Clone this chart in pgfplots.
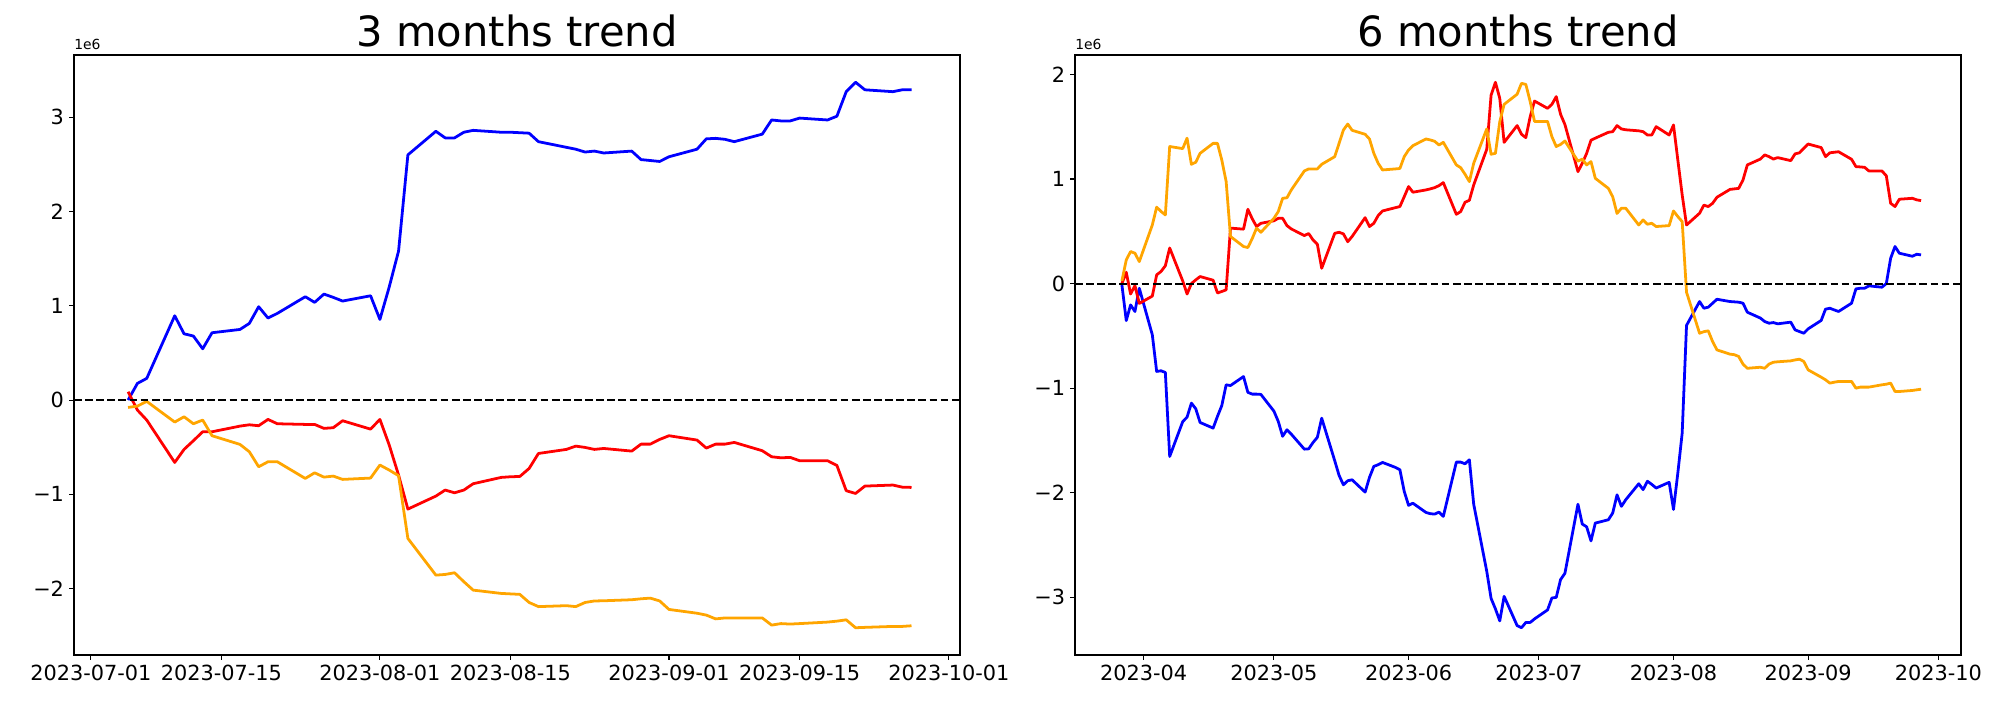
\documentclass[border=0pt]{standalone}
\usepackage{fontspec}
\setmainfont{DejaVu Sans}
\usepackage{pgfplots}
\pgfplotsset{compat=1.18}
\usepackage{pgfplotstable}
\usepgfplotslibrary{dateplot}
\definecolor{mplorange}{RGB}{255,165,0}

\pgfplotstableread{
date blue red orange
2023-07-05 0.000 0.088 -0.078
2023-07-06 0.177 -0.106 -0.064
2023-07-07 0.230 -0.212 -0.014
2023-07-10 0.894 -0.661 -0.233
2023-07-11 0.703 -0.523 -0.177
2023-07-12 0.679 -0.431 -0.251
2023-07-13 0.544 -0.336 -0.212
2023-07-14 0.714 -0.336 -0.378
2023-07-17 0.749 -0.276 -0.470
2023-07-18 0.813 -0.262 -0.548
2023-07-19 0.990 -0.272 -0.707
2023-07-20 0.870 -0.205 -0.654
2023-07-21 0.919 -0.251 -0.654
2023-07-24 1.096 -0.258 -0.831
2023-07-25 1.036 -0.258 -0.771
2023-07-26 1.124 -0.300 -0.817
2023-07-27 1.089 -0.293 -0.806
2023-07-28 1.050 -0.219 -0.841
2023-07-31 1.106 -0.308 -0.827
2023-08-01 0.855 -0.205 -0.689
2023-08-02 1.200 -0.477 -0.742
2023-08-03 1.580 -0.795 -0.802
2023-08-04 2.600 -1.156 -1.467
2023-08-07 2.850 -1.018 -1.856
2023-08-08 2.780 -0.954 -1.849
2023-08-09 2.780 -0.983 -1.831
2023-08-10 2.840 -0.954 -1.926
2023-08-11 2.860 -0.887 -2.015
2023-08-14 2.840 -0.820 -2.050
2023-08-15 2.840 -0.813 -2.055
2023-08-16 2.835 -0.810 -2.060
2023-08-17 2.830 -0.725 -2.146
2023-08-18 2.740 -0.566 -2.190
2023-08-21 2.680 -0.523 -2.180
2023-08-22 2.660 -0.488 -2.190
2023-08-23 2.630 -0.502 -2.146
2023-08-24 2.640 -0.523 -2.130
2023-08-25 2.620 -0.513 -2.128
2023-08-28 2.640 -0.541 -2.117
2023-08-29 2.550 -0.467 -2.107
2023-08-30 2.540 -0.467 -2.100
2023-08-31 2.530 -0.417 -2.130
2023-09-01 2.580 -0.378 -2.220
2023-09-04 2.660 -0.424 -2.260
2023-09-05 2.770 -0.509 -2.280
2023-09-06 2.775 -0.467 -2.320
2023-09-07 2.765 -0.467 -2.310
2023-09-08 2.740 -0.449 -2.310
2023-09-11 2.820 -0.537 -2.310
2023-09-12 2.970 -0.601 -2.386
2023-09-13 2.960 -0.612 -2.370
2023-09-14 2.960 -0.608 -2.375
2023-09-15 2.990 -0.643 -2.370
2023-09-18 2.970 -0.643 -2.354
2023-09-19 3.010 -0.693 -2.344
2023-09-20 3.270 -0.961 -2.330
2023-09-21 3.370 -0.990 -2.414
2023-09-22 3.290 -0.912 -2.410
2023-09-25 3.270 -0.901 -2.400
2023-09-26 3.290 -0.923 -2.400
2023-09-27 3.290 -0.926 -2.393
}\threemonths

\pgfplotstableread{
date blue red orange
2023-03-27 -0.013 0.000 0.025
2023-03-28 -0.354 0.108 0.226
2023-03-29 -0.204 -0.100 0.306
2023-03-30 -0.267 -0.020 0.290
2023-03-31 -0.045 -0.190 0.210
2023-04-03 -0.490 -0.120 0.560
2023-04-04 -0.840 0.083 0.730
2023-04-05 -0.834 0.115 0.690
2023-04-06 -0.850 0.170 0.656
2023-04-07 -1.653 0.340 1.310
2023-04-10 -1.320 0.025 1.290
2023-04-11 -1.277 -0.100 1.390
2023-04-12 -1.143 0.000 1.140
2023-04-13 -1.197 0.035 1.160
2023-04-14 -1.328 0.067 1.245
2023-04-17 -1.382 0.032 1.340
2023-04-18 -1.270 -0.090 1.340
2023-04-19 -1.166 -0.076 1.180
2023-04-20 -0.968 -0.060 0.975
2023-04-21 -0.975 0.530 0.450
2023-04-24 -0.889 0.520 0.354
2023-04-25 -1.040 0.710 0.344
2023-04-26 -1.057 0.620 0.430
2023-04-27 -1.057 0.545 0.530
2023-04-28 -1.060 0.576 0.490
2023-05-01 -1.220 0.600 0.624
2023-05-02 -1.318 0.624 0.688
2023-05-03 -1.460 0.624 0.815
2023-05-04 -1.398 0.554 0.820
2023-05-05 -1.440 0.522 0.895
2023-05-08 -1.583 0.459 1.076
2023-05-09 -1.580 0.478 1.096
2023-05-10 -1.520 0.417 1.096
2023-05-11 -1.470 0.376 1.096
2023-05-12 -1.287 0.146 1.140
2023-05-15 -1.694 0.480 1.213
2023-05-16 -1.834 0.490 1.340
2023-05-17 -1.924 0.475 1.468
2023-05-18 -1.885 0.400 1.525
2023-05-19 -1.876 0.450 1.465
2023-05-22 -1.994 0.630 1.427
2023-05-23 -1.853 0.545 1.382
2023-05-24 -1.748 0.576 1.245
2023-05-25 -1.732 0.650 1.150
2023-05-26 -1.710 0.694 1.086
2023-05-29 -1.758 0.726 1.096
2023-05-30 -1.780 0.736 1.100
2023-05-31 -1.987 0.830 1.213
2023-06-01 -2.120 0.927 1.277
2023-06-02 -2.100 0.873 1.318
2023-06-05 -2.188 0.895 1.382
2023-06-06 -2.200 0.905 1.373
2023-06-07 -2.204 0.917 1.360
2023-06-08 -2.185 0.936 1.325
2023-06-09 -2.226 0.965 1.350
2023-06-12 -1.707 0.662 1.134
2023-06-13 -1.707 0.688 1.108
2023-06-14 -1.723 0.777 1.045
2023-06-15 -1.685 0.796 0.975
2023-06-16 -2.110 0.943 1.150
2023-06-19 -2.750 1.283 1.478
2023-06-20 -3.010 1.800 1.236
2023-06-21 -3.110 1.924 1.245
2023-06-22 -3.225 1.770 1.548
2023-06-23 -2.990 1.350 1.713
2023-06-26 -3.270 1.510 1.810
2023-06-27 -3.290 1.427 1.914
2023-06-28 -3.240 1.395 1.904
2023-06-29 -3.240 1.595 1.740
2023-06-30 -3.206 1.745 1.550
2023-07-03 -3.120 1.675 1.550
2023-07-04 -3.006 1.713 1.404
2023-07-05 -3.000 1.787 1.310
2023-07-06 -2.830 1.618 1.330
2023-07-07 -2.770 1.520 1.363
2023-07-10 -2.110 1.070 1.170
2023-07-11 -2.300 1.150 1.190
2023-07-12 -2.325 1.245 1.134
2023-07-13 -2.460 1.370 1.166
2023-07-14 -2.290 1.390 1.006
2023-07-17 -2.258 1.446 0.910
2023-07-18 -2.194 1.452 0.830
2023-07-19 -2.020 1.510 0.670
2023-07-20 -2.130 1.478 0.720
2023-07-21 -2.067 1.470 0.720
2023-07-24 -1.914 1.460 0.560
2023-07-25 -1.970 1.452 0.608
2023-07-26 -1.890 1.420 0.567
2023-07-27 -1.920 1.420 0.576
2023-07-28 -1.955 1.500 0.545
2023-07-31 -1.900 1.420 0.554
2023-08-01 -2.160 1.516 0.694
2023-08-02 -1.810 1.180 0.640
2023-08-03 -1.430 0.847 0.592
2023-08-04 -0.400 0.560 -0.083
2023-08-07 -0.172 0.672 -0.475
2023-08-08 -0.236 0.750 -0.460
2023-08-09 -0.226 0.736 -0.452
2023-08-10 -0.188 0.767 -0.554
2023-08-11 -0.150 0.825 -0.634
2023-08-14 -0.172 0.900 -0.675
2023-08-15 -0.175 0.905 -0.680
2023-08-16 -0.178 0.910 -0.697
2023-08-17 -0.188 0.990 -0.770
2023-08-18 -0.274 1.134 -0.810
2023-08-21 -0.330 1.190 -0.800
2023-08-22 -0.363 1.230 -0.810
2023-08-23 -0.379 1.213 -0.770
2023-08-24 -0.373 1.190 -0.752
2023-08-25 -0.385 1.204 -0.748
2023-08-28 -0.369 1.175 -0.739
2023-08-29 -0.443 1.240 -0.730
2023-08-30 -0.459 1.250 -0.723
2023-08-31 -0.475 1.293 -0.745
2023-09-01 -0.433 1.334 -0.825
2023-09-04 -0.353 1.300 -0.895
2023-09-05 -0.245 1.213 -0.920
2023-09-06 -0.236 1.250 -0.952
2023-09-07 -0.252 1.255 -0.943
2023-09-08 -0.267 1.260 -0.936
2023-09-11 -0.188 1.188 -0.936
2023-09-12 -0.051 1.118 -1.000
2023-09-13 -0.045 1.115 -0.990
2023-09-14 -0.045 1.111 -0.990
2023-09-15 -0.022 1.076 -0.990
2023-09-18 -0.035 1.076 -0.968
2023-09-19 0.000 1.030 -0.962
2023-09-20 0.242 0.767 -0.952
2023-09-21 0.354 0.736 -1.032
2023-09-22 0.290 0.806 -1.032
2023-09-25 0.261 0.815 -1.022
2023-09-26 0.280 0.800 -1.016
2023-09-27 0.274 0.793 -1.010
}\sixmonths

\pgfplotsset{
  trend/.style={
    scale only axis,
    width=637.92pt, height=432pt,
    anchor=south west,
    date coordinates in=x,
    axis line style={line width=0.8pt},
    tick align=outside,
    major tick length=3.5pt,
    tick style={line width=0.8pt, black},
    xtick pos=bottom, ytick pos=left,
    tick label style={font=\fontsize{15}{18}\selectfont},
    xticklabel style={inner sep=0pt, yshift=-3.5pt},
    yticklabel style={inner sep=0pt, xshift=-3.5pt},
    /pgf/number format/assume math mode=true,
  },
}
\tikzset{
  series/.style={line width=2pt, line join=round},
  zeroline/.style={black, line width=1.5pt, dash pattern=on 5.6pt off 2.4pt},
}

\begin{document}
\begin{tikzpicture}
\path[use as bounding box] (0,0) rectangle (1440pt,504pt);

\begin{axis}[trend,
  at={(53.28pt,32.4pt)},
  date ZERO=2023-07-01,
  xmin={2023-06-30 19:12}, xmax={2023-10-02 04:48},
  ymin=-2.703, ymax=3.659,
  xtick={2023-07-01,2023-07-15,2023-08-01,2023-08-15,2023-09-01,2023-09-15,2023-10-01},
  xticklabels={2023-07-01,2023-07-15,2023-08-01,2023-08-15,2023-09-01,2023-09-15,2023-10-01},
  ytick={-2,-1,0,1,2,3},
  yticklabels={−2,−1,0,1,2,3},
]
\addplot[series, blue] table[x=date, y=blue] {\threemonths};
\addplot[series, red] table[x=date, y=red] {\threemonths};
\addplot[series, mplorange] table[x=date, y=orange] {\threemonths};
\draw[zeroline]
  ({rel axis cs:0,0} |- {axis cs:2023-07-01,0}) -- ({rel axis cs:1,0} |- {axis cs:2023-07-01,0});
\end{axis}

\begin{axis}[trend,
  at={(774pt,32.4pt)},
  date ZERO=2023-04-01,
  xmin={2023-03-17 19:12}, xmax={2023-10-06 04:48},
  ymin=-3.551, ymax=2.185,
  xtick={2023-04-01,2023-05-01,2023-06-01,2023-07-01,2023-08-01,2023-09-01,2023-10-01},
  xticklabels={2023-04,2023-05,2023-06,2023-07,2023-08,2023-09,2023-10},
  ytick={-3,-2,-1,0,1,2},
  yticklabels={−3,−2,−1,0,1,2},
]
\addplot[series, blue] table[x=date, y=blue] {\sixmonths};
\addplot[series, red] table[x=date, y=red] {\sixmonths};
\addplot[series, mplorange] table[x=date, y=orange] {\sixmonths};
\draw[zeroline]
  ({rel axis cs:0,0} |- {axis cs:2023-04-01,0}) -- ({rel axis cs:1,0} |- {axis cs:2023-04-01,0});
\end{axis}

\node[anchor=base, font=\fontsize{30}{36}\selectfont] at (372.24pt,470.4pt) {3 months trend};
\node[anchor=base, font=\fontsize{30}{36}\selectfont] at (1092.96pt,470.4pt) {6 months trend};
\node[anchor=base west, inner sep=0pt, font=\fontsize{10}{12}\selectfont] at (53.28pt,468pt) {1e6};
\node[anchor=base west, inner sep=0pt, font=\fontsize{10}{12}\selectfont] at (774pt,468pt) {1e6};
\end{tikzpicture}
\end{document}
